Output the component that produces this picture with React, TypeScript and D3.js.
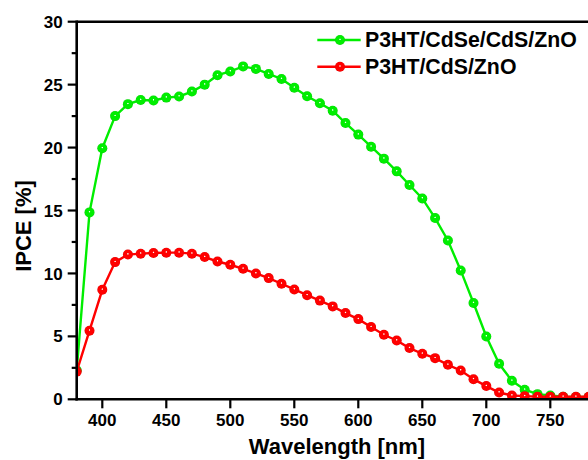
import React from "react";
import * as d3 from "d3";

const wavelengths = [380, 390, 400, 410, 420, 430, 440, 450, 460, 470, 480, 490, 500, 510, 520, 530, 540, 550, 560, 570, 580, 590, 600, 610, 620, 630, 640, 650, 660, 670, 680, 690, 700, 710, 720, 730, 740, 750, 760, 770, 780];

const cdseValues = [2.3, 14.85, 19.95, 22.5, 23.45, 23.78, 23.74, 23.97, 24.06, 24.45, 25.0, 25.75, 26.05, 26.45, 26.25, 25.85, 25.45, 24.75, 24.07, 23.52, 22.93, 21.95, 21.03, 20.07, 19.12, 18.11, 17.03, 15.96, 14.4, 12.62, 10.24, 7.65, 4.99, 2.82, 1.47, 0.76, 0.41, 0.3, 0.2, 0.18, 0.18];

const cdsValues = [2.2, 5.45, 8.7, 10.9, 11.5, 11.57, 11.62, 11.65, 11.65, 11.57, 11.3, 10.95, 10.69, 10.37, 10.0, 9.63, 9.18, 8.73, 8.27, 7.84, 7.38, 6.85, 6.37, 5.74, 5.13, 4.67, 4.07, 3.62, 3.27, 2.74, 2.29, 1.6, 1.05, 0.54, 0.3, 0.25, 0.2, 0.2, 0.2, 0.2, 0.2];

const xTicks = [400, 450, 500, 550, 600, 650, 700, 750];
const yTicks = [0, 5, 10, 15, 20, 25, 30];
const yMinorTicks = [2.5, 7.5, 12.5, 17.5, 22.5, 27.5];

const seriesNames = ["P3HT/CdSe/CdS/ZnO", "P3HT/CdS/ZnO"];
const seriesColors = ["#00ee00", "#ff0000"];
const seriesDark = ["#00cc00", "#e00000"];

const W = 588;
const H = 460;
const left = 76.7;
const top = 21.7;
const bottom = 399.3;
const right = left + 420 * 1.28;

const font = "'Liberation Sans', Arial, sans-serif";

export default function App() {
  const x = d3.scaleLinear().domain([380, 800]).range([left, right]);
  const y = d3.scaleLinear().domain([0, 30]).range([bottom, top]);
  const line = d3
    .line<number>()
    .x((_, i) => x(wavelengths[i]))
    .y((d) => y(d));
  const series = [cdseValues, cdsValues];

  return (
    <svg
      width={W}
      height={H}
      style={{ position: "absolute", left: 0, top: 0, background: "#fff" }}
      fontFamily={font}
      fontWeight="bold"
    >
      <defs>
        <clipPath id="plot">
          <rect x={left} y={top} width={right - left} height={bottom - top} />
        </clipPath>
        {seriesColors.map((c, i) => (
          <radialGradient key={i} id={`ball${i}`} cx="50%" cy="50%" r="50%" fx="50%" fy="42%">
            <stop offset="0%" stopColor="#ffffff" />
            <stop offset="6%" stopColor="#f4fff4" />
            <stop offset="22%" stopColor={c} />
            <stop offset="85%" stopColor={c} />
            <stop offset="100%" stopColor={seriesDark[i]} />
          </radialGradient>
        ))}
      </defs>
      <rect x={0} y={0} width={W} height={H} fill="#fff" />

      <g clipPath="url(#plot)">
        {series.map((vals, si) => (
          <g key={si}>
            <path d={line(vals) || ""} fill="none" stroke={seriesColors[si]} strokeWidth={2.4} />
            {vals.map((v, i) => (
              <circle key={i} cx={x(wavelengths[i])} cy={y(v)} r={5} fill={`url(#ball${si})`} />
            ))}
          </g>
        ))}
      </g>

      {/* frame */}
      <line x1={left} x2={right} y1={top} y2={top} stroke="#000" strokeWidth={2.4} />
      <line x1={right} x2={right} y1={top} y2={bottom} stroke="#000" strokeWidth={2.4} />
      <line x1={left} x2={left} y1={top - 1.2} y2={bottom + 1.2} stroke="#000" strokeWidth={2.6} />
      <line x1={left - 1.2} x2={right} y1={bottom} y2={bottom} stroke="#000" strokeWidth={2.6} />

      {/* y axis */}
      {yTicks.map((t) => (
        <g key={t}>
          <line x1={left - 9} x2={left} y1={y(t)} y2={y(t)} stroke="#000" strokeWidth={2.2} />
          <text x={left - 14} y={y(t)} dy="0.36em" textAnchor="end" fontSize={17}>
            {t}
          </text>
        </g>
      ))}
      {yMinorTicks.map((t) => (
        <line key={t} x1={left - 5} x2={left} y1={y(t)} y2={y(t)} stroke="#000" strokeWidth={2.2} />
      ))}

      {/* x axis */}
      {xTicks.map((t) => (
        <g key={t}>
          <line x1={x(t)} x2={x(t)} y1={bottom} y2={bottom + 9} stroke="#000" strokeWidth={2.2} />
          <text x={x(t)} y={426} textAnchor="middle" fontSize={17}>
            {t}
          </text>
        </g>
      ))}

      <text x={337} y={454} textAnchor="middle" fontSize={22}>
        Wavelength [nm]
      </text>
      <text transform="translate(31,226) rotate(-90)" textAnchor="middle" fontSize={22}>
        IPCE [%]
      </text>

      {/* legend */}
      {seriesNames.map((name, i) => {
        const ly = 40 + i * 26.7;
        return (
          <g key={name}>
            <line x1={317.3} x2={360.7} y1={ly} y2={ly} stroke={seriesColors[i]} strokeWidth={2.4} />
            <circle cx={340} cy={ly} r={5} fill={`url(#ball${i})`} />
            <text x={365} y={ly + 7} fontSize={21.3}>
              {name}
            </text>
          </g>
        );
      })}
    </svg>
  );
}
